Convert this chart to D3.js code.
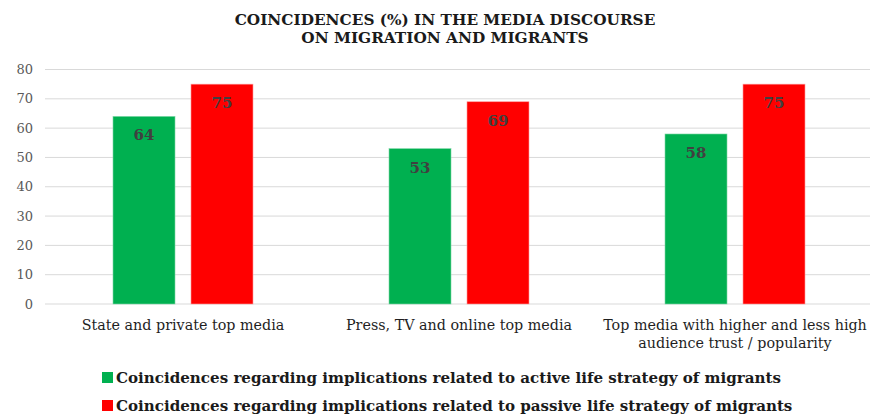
<!DOCTYPE html>
<html>
<head>
<meta charset="utf-8">
<script src="https://cdn.jsdelivr.net/npm/d3@7"></script>
<style>
  html, body { margin: 0; padding: 0; background: #fff; }
  svg { display: block; font-family: "DejaVu Serif", Georgia, serif; }
</style>
</head>
<body>
<div id="chart"></div>
<script>
const categories = [
  ['State and private top media'],
  ['Press, TV and online top media'],
  ['Top media with higher and less high', 'audience trust / popularity']
];
const seriesNames = [
  'Coincidences regarding implications related to active life strategy of migrants',
  'Coincidences regarding implications related to passive life strategy of migrants'
];
const activeValues = [64, 53, 58];
const passiveValues = [75, 69, 75];
const yTicks = [0, 10, 20, 30, 40, 50, 60, 70, 80];
const colors = ['#00b050', '#ff0000'];

const width = 870, height = 414;
const svg = d3.select('#chart').append('svg')
  .attr('width', width)
  .attr('height', height);

const x0 = d3.scaleBand()
  .domain(d3.range(categories.length))
  .range([45, 873]);

// two bars of 62px with a 16px gap, centred in each 276px band
const x1 = d3.scaleBand()
  .domain([0, 1])
  .range([68, 208])
  .paddingInner(0.205);

const y = d3.scaleLinear()
  .domain([0, 80])
  .range([304, 69.5]);

// title
svg.append('text')
  .attr('x', 445)
  .attr('y', 25)
  .attr('text-anchor', 'middle')
  .attr('font-weight', 'bold')
  .attr('font-size', 15.3)
  .attr('fill', '#1a1a1a')
  .selectAll('tspan')
  .data(['COINCIDENCES (%) IN THE MEDIA DISCOURSE', 'ON MIGRATION AND MIGRANTS'])
  .enter().append('tspan')
  .attr('x', 445)
  .attr('dy', (d, i) => i === 0 ? 0 : 18)
  .text(d => d);

// gridlines
svg.append('g')
  .selectAll('line')
  .data(yTicks)
  .enter().append('line')
  .attr('x1', 45)
  .attr('x2', 873)
  .attr('y1', d => y(d))
  .attr('y2', d => y(d))
  .attr('stroke', '#d9d9d9')
  .attr('stroke-width', 1);

// y axis
const yAxis = svg.append('g')
  .attr('transform', 'translate(33,0)')
  .call(d3.axisLeft(y).tickValues(yTicks).tickSize(0).tickPadding(0));
yAxis.select('.domain').remove();
yAxis.selectAll('text')
  .attr('font-family', '"DejaVu Serif", Georgia, serif')
  .attr('font-size', 13)
  .attr('fill', '#595959');

// bars
const groups = svg.append('g')
  .selectAll('g')
  .data(categories.map((c, i) => [activeValues[i], passiveValues[i]]))
  .enter().append('g')
  .attr('transform', (d, i) => `translate(${x0(i)},0)`);

groups.selectAll('rect')
  .data(d => d)
  .enter().append('rect')
  .attr('x', (d, i) => x1(i))
  .attr('width', x1.bandwidth())
  .attr('y', d => y(d))
  .attr('height', d => y(0) - y(d))
  .attr('fill', (d, i) => colors[i])
  .attr('stroke', (d, i) => i === 0 ? '#7fd7a7' : '#ff9a9a')
  .attr('stroke-width', 0.6);

groups.selectAll('text')
  .data(d => d)
  .enter().append('text')
  .attr('x', (d, i) => x1(i) + x1.bandwidth() / 2)
  .attr('y', d => y(d) + 24)
  .attr('text-anchor', 'middle')
  .attr('font-weight', 'bold')
  .attr('font-size', 15)
  .attr('fill', '#404040')
  .text(d => d);

// category labels
svg.append('g')
  .selectAll('text')
  .data(categories)
  .enter().append('text')
  .attr('x', (d, i) => x0(i) + x0.bandwidth() / 2)
  .attr('y', 330)
  .attr('text-anchor', 'middle')
  .attr('font-size', 14.3)
  .attr('fill', '#1f1f1f')
  .selectAll('tspan')
  .data(d => d)
  .enter().append('tspan')
  .attr('x', function () { return d3.select(this.parentNode).attr('x'); })
  .attr('dy', (d, i) => i === 0 ? 0 : 18)
  .text(d => d);

// legend
const legend = svg.append('g')
  .selectAll('g')
  .data(seriesNames)
  .enter().append('g')
  .attr('transform', (d, i) => `translate(102,${372 + i * 28})`);

legend.append('rect')
  .attr('width', 11)
  .attr('height', 11)
  .attr('fill', (d, i) => colors[i]);

legend.append('text')
  .attr('x', 14)
  .attr('y', 10.5)
  .attr('font-weight', 'bold')
  .attr('font-size', 15.1)
  .attr('fill', '#1a1a1a')
  .text(d => d);
</script>
</body>
</html>
